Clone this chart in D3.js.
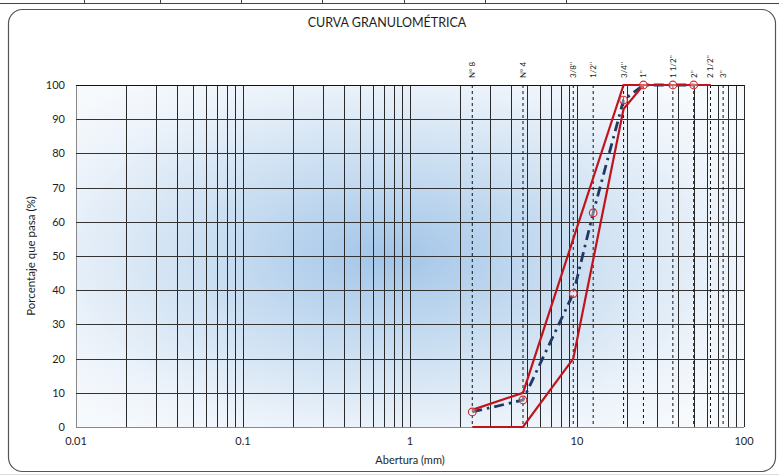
<!DOCTYPE html>
<html>
<head>
<meta charset="utf-8">
<script src="https://cdn.jsdelivr.net/npm/d3@7"></script>
<style>
  html, body { margin: 0; padding: 0; background: #ffffff; }
  svg { display: block; }
  text { font-family: Lato, "Open Sans", sans-serif; fill: #1e1e1e; }
</style>
</head>
<body>
<svg id="chart" width="779" height="476"></svg>
<script>
// Sieve openings (mm) and their names
const sieveLabels = ["N° 8", "N° 4", "3/8''", "1/2''", "3/4''", "1''", "1 1/2''", "2''", "2 1/2''", "3''"];
const sieveSizes = [2.36, 4.75, 9.5, 12.5, 19, 25, 37.5, 50, 63, 75];

// Sample: percentage passing per sieve
const sampleSizes = [2.36, 4.75, 9.5, 12.5, 19, 25, 37.5, 50];
const samplePassing = [4.4, 7.9, 39, 62.6, 95.6, 100, 100, 100];

// Gradation band limits
const limitSizes = [2.36, 4.75, 9.5, 19, 25, 37.5, 50, 63];
const upperLimit = [5, 10, 55, 100, 100, 100, 100, 100];
const lowerLimit = [0, 0, 20, 93, 100, 100, 100, 100];

// Axis ticks
const xTickValues = [0.01, 0.1, 1, 10, 100];
const yTickValues = [0, 10, 20, 30, 40, 50, 60, 70, 80, 90, 100];

const svg = d3.select("#chart");
const W = 779, H = 476;
const plot = { left: 76, right: 744, top: 85, bottom: 427 };

// Page decoration: table strip on top and chart frame
svg.append("line").attr("x1", 0).attr("x2", W).attr("y1", 3.5).attr("y2", 3.5)
  .attr("stroke", "#444").attr("stroke-width", 1);
[84, 160, 241, 322, 404, 485, 566].forEach(x => {
  svg.append("line").attr("x1", x + 0.5).attr("x2", x + 0.5).attr("y1", 0).attr("y2", 3.5)
    .attr("stroke", "#444").attr("stroke-width", 1);
});
svg.append("rect").attr("x", 8.5).attr("y", 9.5).attr("width", 767).attr("height", 462)
  .attr("rx", 14).attr("fill", "#ffffff").attr("stroke", "#555").attr("stroke-width", 1.2);
svg.append("line").attr("x1", 0).attr("x2", W).attr("y1", 474.5).attr("y2", 474.5)
  .attr("stroke", "#ddd").attr("stroke-width", 1);

const x = d3.scaleLog().domain([0.01, 100]).range([plot.left, plot.right]);
const y = d3.scaleLinear().domain([0, 100]).range([plot.bottom, plot.top]);

// Plot area background
const defs = svg.append("defs");
const grad = defs.append("radialGradient").attr("id", "plotBg")
  .attr("cx", "0.47").attr("cy", "0.5").attr("r", "0.65");
grad.append("stop").attr("offset", "0").attr("stop-color", "#a3c5e8");
grad.append("stop").attr("offset", "0.45").attr("stop-color", "#cde0f2");
grad.append("stop").attr("offset", "0.8").attr("stop-color", "#edf3fa");
grad.append("stop").attr("offset", "1").attr("stop-color", "#f7fafd");
svg.append("rect").attr("x", plot.left).attr("y", plot.top)
  .attr("width", plot.right - plot.left).attr("height", plot.bottom - plot.top)
  .attr("fill", "url(#plotBg)");

// Log grid: every 1..9 multiple of each decade
const logGrid = [];
for (let k = -2; k <= 1; k++) {
  for (let m = 1; m <= 9; m++) logGrid.push(m * Math.pow(10, k));
}
logGrid.push(100);
svg.append("g").selectAll("line").data(logGrid).join("line")
  .attr("x1", d => Math.round(x(d)) + 0.5).attr("x2", d => Math.round(x(d)) + 0.5)
  .attr("y1", plot.top).attr("y2", plot.bottom)
  .attr("stroke", d => (d === 0.01 ? "#888" : "#2a2a2a")).attr("stroke-width", 1);

svg.append("g").selectAll("line").data(yTickValues).join("line")
  .attr("x1", plot.left).attr("x2", plot.right)
  .attr("y1", d => Math.round(y(d)) + 0.5).attr("y2", d => Math.round(y(d)) + 0.5)
  .attr("stroke", d => (d === 0 ? "#888" : d === 100 ? "#111" : "#333")).attr("stroke-width", 1);

// Sieve reference lines
svg.append("g").selectAll("line").data(sieveSizes).join("line")
  .attr("x1", d => x(d)).attr("x2", d => x(d))
  .attr("y1", plot.top).attr("y2", plot.bottom)
  .attr("stroke", "#111").attr("stroke-width", 1).attr("stroke-dasharray", "3,3");

svg.append("g").selectAll("text").data(sieveSizes).join("text")
  .attr("transform", d => `translate(${x(d) + 3},78) rotate(-90)`)
  .attr("text-anchor", "start").attr("font-size", 8).attr("fill", "#333")
  .text((d, i) => sieveLabels[i]);

// Sample curve (drawn first, limits on top)
const sampleData = sampleSizes.map((s, i) => ({ s, p: samplePassing[i] }));
const line = d3.line().x(d => x(d.s)).y(d => y(d.p));
svg.append("path").datum(sampleData).attr("d", line)
  .attr("fill", "none").attr("stroke", "#1f3864").attr("stroke-width", 2.8)
  .attr("stroke-dasharray", "10,5,2.5,5");

// Gradation limits
const upperData = limitSizes.map((s, i) => ({ s, p: upperLimit[i] }));
const lowerData = limitSizes.map((s, i) => ({ s, p: lowerLimit[i] }));
[upperData, lowerData].forEach(dat => {
  svg.append("path").datum(dat).attr("d", line)
    .attr("fill", "none").attr("stroke", "#c0141c").attr("stroke-width", 2.2)
    .attr("stroke-linejoin", "miter");
});

// Sample markers
svg.append("g").selectAll("circle").data(sampleData).join("circle")
  .attr("cx", d => x(d.s)).attr("cy", d => y(d.p)).attr("r", 3.8)
  .attr("fill", "rgba(255,255,255,0.35)").attr("stroke", "#d03030").attr("stroke-width", 1.2);

// Axis tick labels
svg.append("g").selectAll("text").data(yTickValues).join("text")
  .attr("x", 65).attr("y", d => y(d) + 4)
  .attr("text-anchor", "end").attr("font-size", 11).text(d => d);

svg.append("g").selectAll("text").data(xTickValues).join("text")
  .attr("x", d => x(d)).attr("y", 445)
  .attr("text-anchor", "middle").attr("font-size", 11).text(d => d);

// Titles
svg.append("text").attr("x", 387).attr("y", 27).attr("text-anchor", "middle")
  .attr("font-size", 12.5).text("CURVA GRANULOMÉTRICA");
svg.append("text").attr("x", 410).attr("y", 464).attr("text-anchor", "middle")
  .attr("font-size", 11).text("Abertura (mm)");
svg.append("text").attr("transform", "translate(35,256) rotate(-90)")
  .attr("text-anchor", "middle").attr("font-size", 11.5).text("Porcentaje que pasa (%)");
</script>
</body>
</html>
